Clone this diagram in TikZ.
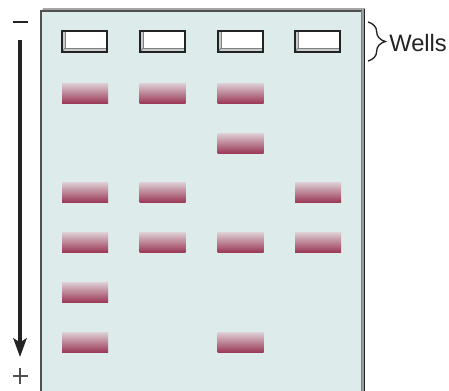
\documentclass[tikz,border=0pt]{standalone}
\usepackage{fontspec}
\setmainfont{Liberation Sans}
\usetikzlibrary{arrows.meta,decorations.pathreplacing}
\definecolor{gelfill}{RGB}{221,235,234}
\definecolor{geledge}{RGB}{80,80,80}
\definecolor{gelback}{RGB}{150,160,160}
\definecolor{bandtop}{RGB}{222,208,214}
\definecolor{bandbot}{RGB}{156,58,88}
\definecolor{bevel}{RGB}{200,205,205}
\definecolor{inkdark}{RGB}{35,35,35}
\tikzset{
  band/.style={minimum width=46*0.75pt, minimum height=20*0.75pt, inner sep=0pt,
    top color=bandtop, bottom color=bandbot, draw=none},
  wellbox/.style={minimum width=45*0.75pt, minimum height=21*0.75pt, inner sep=0pt,
    fill=white, draw=inkdark, line width=0.9pt,
    path picture={
      \fill[bevel] (path picture bounding box.north west) rectangle ([xshift=3*0.75pt]path picture bounding box.south west);
      \fill[bevel] (path picture bounding box.south west) rectangle ([yshift=4*0.75pt]path picture bounding box.south east);
      \draw[gray,line width=0.6pt] ([xshift=3*0.75pt]path picture bounding box.north west) -- ([xshift=3*0.75pt,yshift=4*0.75pt]path picture bounding box.south west) -- ([yshift=4*0.75pt]path picture bounding box.south east);
      \draw[gray,line width=0.6pt] (path picture bounding box.south west) -- ([xshift=3*0.75pt,yshift=4*0.75pt]path picture bounding box.south west);
    }},
  signline/.style={inkdark, line width=1.3pt},
}
\begin{document}
\begin{tikzpicture}[x=0.75pt,y=-0.75pt]
\useasboundingbox (0,0) rectangle (449,390);
% gel slab
\fill[gelback] (41,11) -- (43,9) -- (364.5,9) -- (364.5,392) -- (361.5,392) -- (361.5,11) -- cycle;
\draw[gray!70,line width=0.8pt] (43,9) -- (364.5,9);
\draw[inkdark,line width=1pt] (364.5,9) -- (364.5,392);
\fill[gelfill] (41,11) rectangle (361.5,392);
\draw[geledge,line width=1.2pt] (41,392) -- (41,11) -- (361.5,11);
\draw[gray,line width=0.8pt] (361.5,11) -- (361.5,392);
% wells
\node[wellbox] (w1) at (84.5,41.5) {};
\node[wellbox] (w2) at (162.5,41.5) {};
\node[wellbox] (w3) at (240.5,41.5) {};
\node[wellbox] (w4) at (317.5,41.5) {};
% bands lane 1
\node[band] (b11) at (85,93) {};
\node[band] (b13) at (85,192) {};
\node[band] (b14) at (85,242) {};
\node[band] (b15) at (85,292) {};
\node[band] (b16) at (85,342) {};
% lane 2
\node[band] (b21) at (162.5,93) {};
\node[band] (b23) at (162.5,192) {};
\node[band] (b24) at (162.5,242) {};
% lane 3
\node[band] (b31) at (240.5,93) {};
\node[band] (b32) at (240.5,143) {};
\node[band] (b34) at (240.5,242) {};
\node[band] (b36) at (240.5,342) {};
% lane 4
\node[band] (b43) at (318,192) {};
\node[band] (b44) at (318,242) {};
% brace and label
\coordinate (bt) at (368,22);
\coordinate (bb) at (368,61);
\draw[inkdark,line width=1pt,decorate,decoration={brace,amplitude=13pt,aspect=0.5}] (bt) -- (bb);
\node[anchor=west, inner sep=0pt, font=\fontsize{17.8}{20}\selectfont, text=inkdark] (wells) at (389,43) {Wells};
% polarity
\coordinate (minusL) at (13,22);
\coordinate (minusR) at (28,22);
\draw[signline] (minusL) -- (minusR);
\coordinate (arrS) at (20,40);
\coordinate (arrE) at (20,357);
\draw[inkdark,line width=2.4pt,-{Stealth[length=14pt,width=10pt,inset=3pt]}] (arrS) -- (arrE);
\coordinate (plusC) at (20,376);
\draw[inkdark!80,line width=0.9pt] ([xshift=-7.5*0.75pt]plusC) -- ([xshift=7.5*0.75pt]plusC);
\draw[inkdark!80,line width=0.9pt] ([yshift=-8*0.75pt]plusC) -- ([yshift=8*0.75pt]plusC);
\end{tikzpicture}
\end{document}
